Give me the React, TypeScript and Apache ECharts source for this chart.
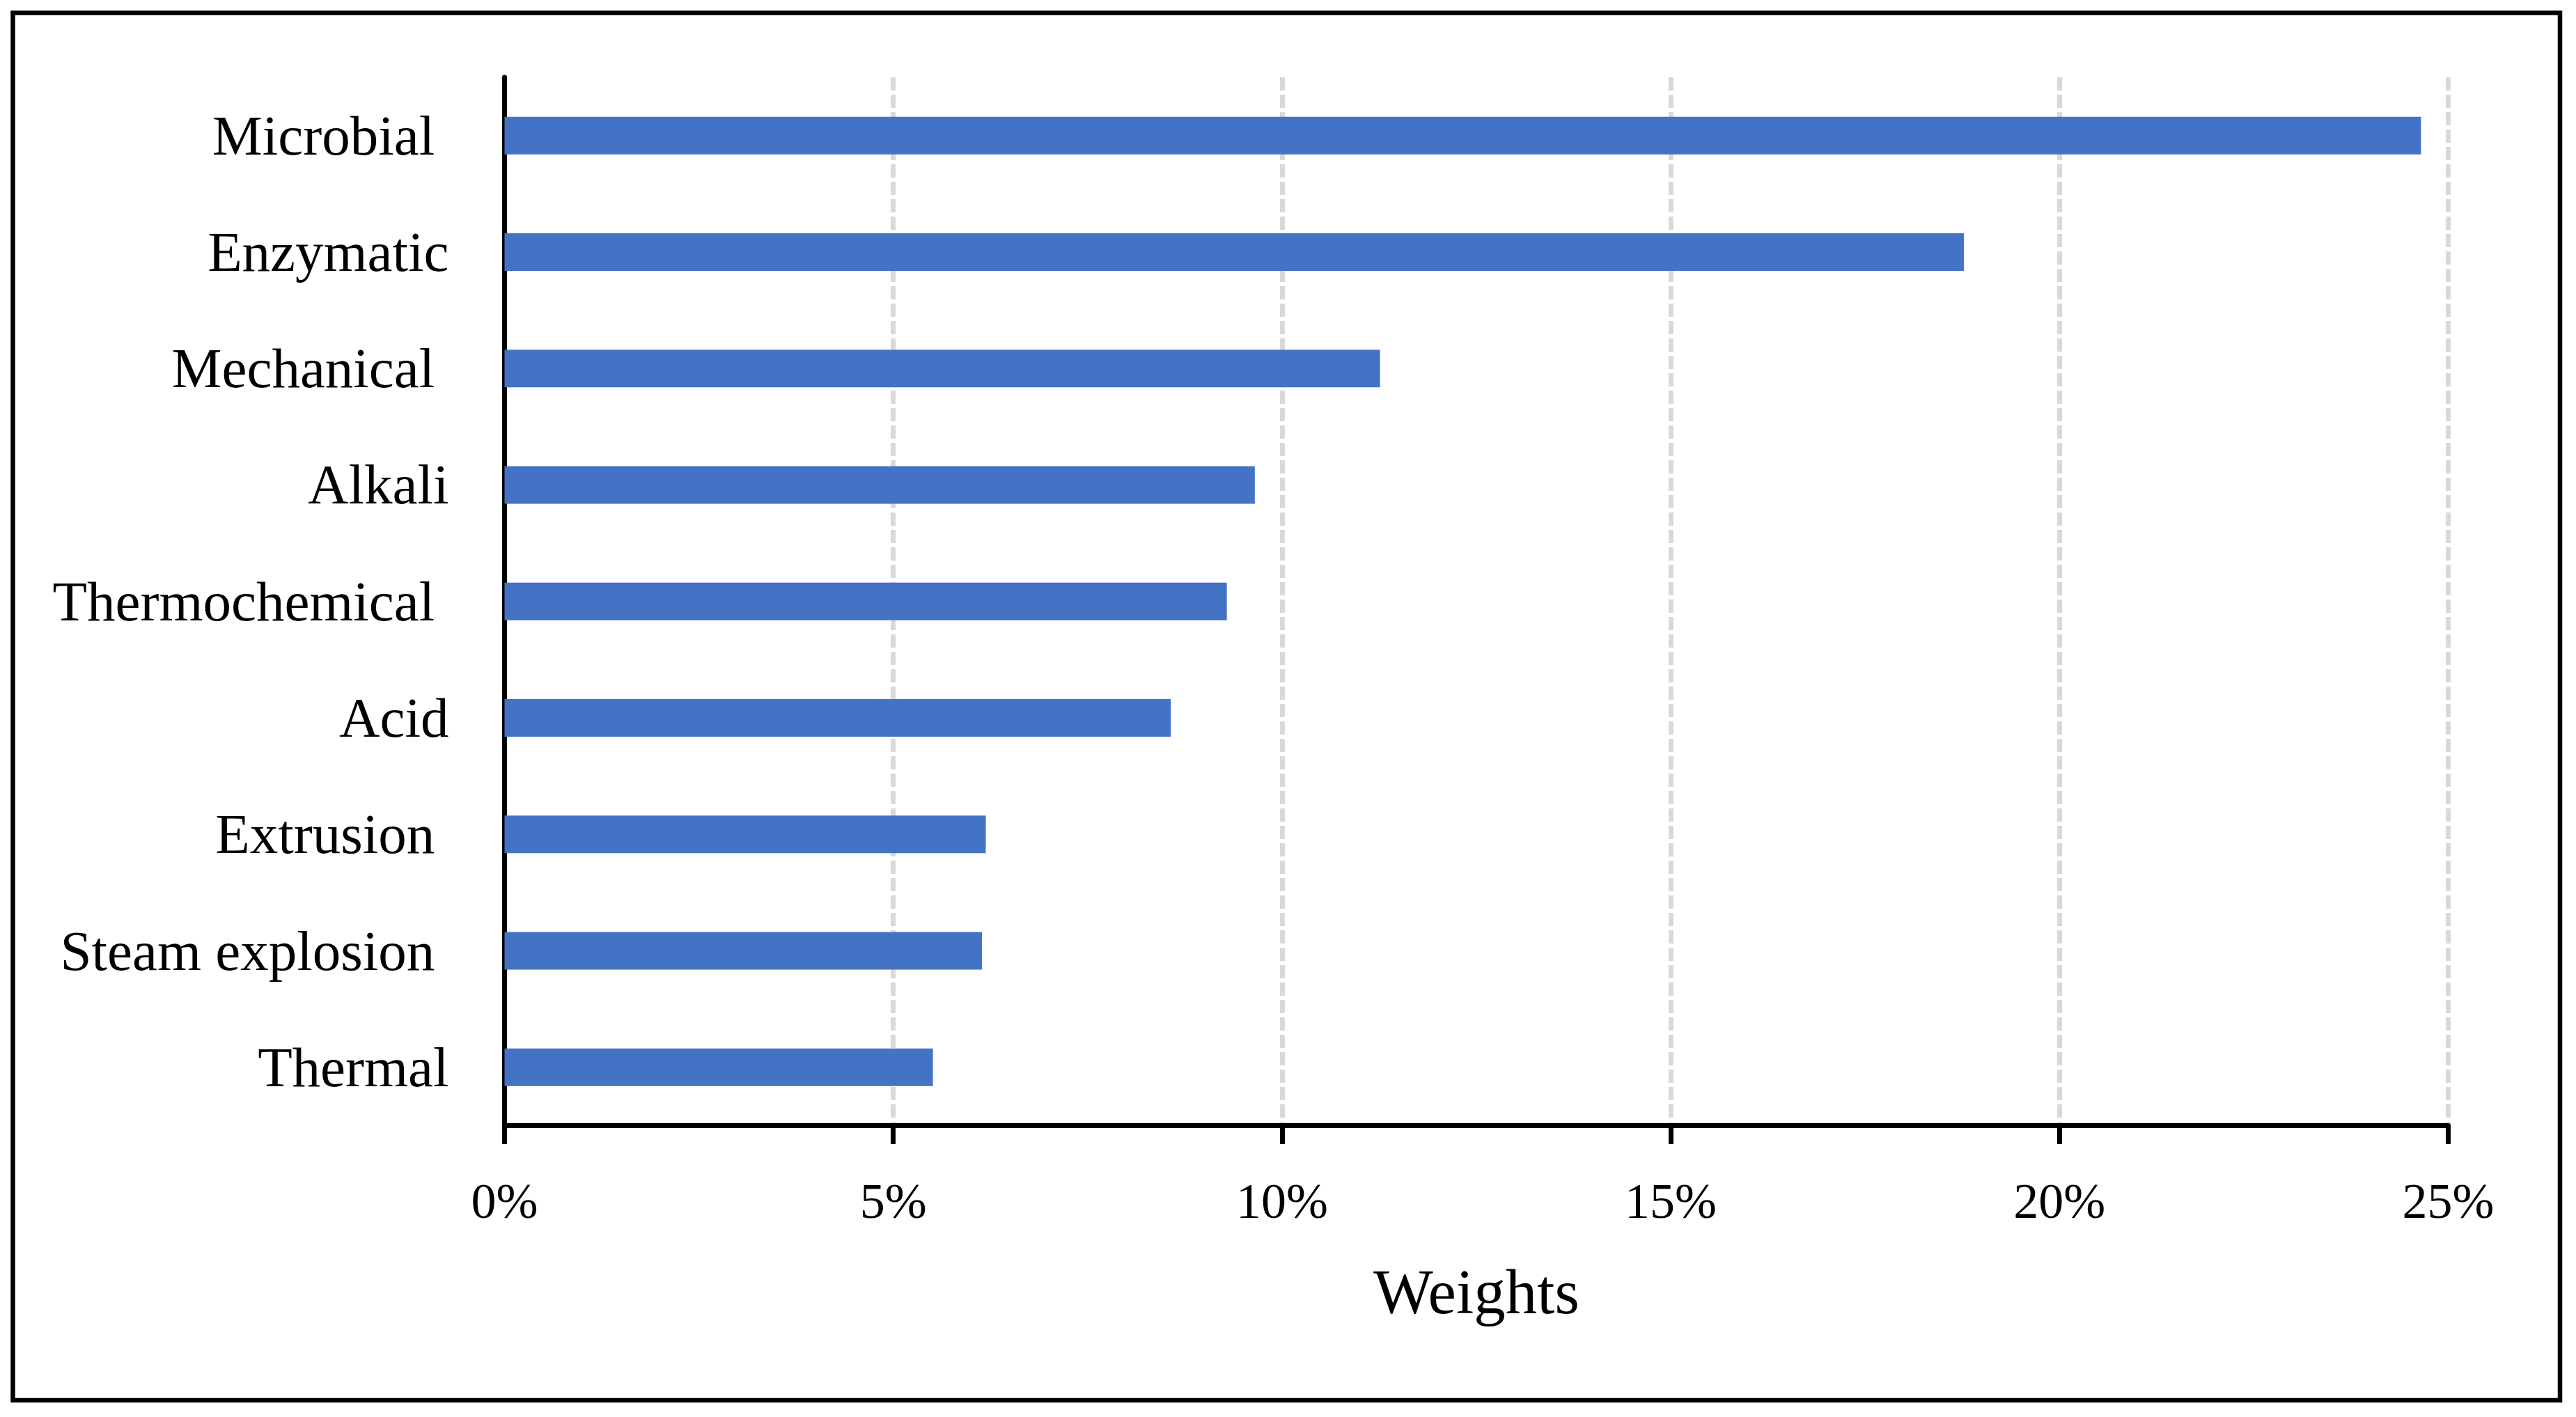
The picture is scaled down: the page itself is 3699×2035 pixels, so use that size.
import React, { useEffect, useRef } from "react";
import * as echarts from "echarts";

const categories = [
  "Microbial ",
  "Enzymatic",
  "Mechanical ",
  "Alkali",
  "Thermochemical ",
  "Acid",
  "Extrusion ",
  "Steam explosion ",
  "Thermal",
];
const weights = [24.65, 18.77, 11.26, 9.65, 9.29, 8.57, 6.19, 6.14, 5.51];
const xTicks = { min: 0, max: 25, interval: 5 };
const xAxisTitle = "Weights";

const FONT = "Liberation Serif";

export default function App() {
  const ref = useRef<HTMLDivElement>(null);
  useEffect(() => {
    if (!ref.current) return;
    const chart = echarts.init(ref.current, undefined, { renderer: "svg" });
    chart.setOption({
      animation: false,
      backgroundColor: "#ffffff",
      grid: { left: 724.5, top: 111, right: 183.5, bottom: 418.5, containLabel: false },
      graphic: [
        {
          type: "rect",
          shape: { x: 18.5, y: 18.5, width: 3657.5, height: 1992.5 },
          style: { fill: "none", stroke: "#000", lineWidth: 6.5 },
          z: 100,
        },
      ],
      xAxis: {
        type: "value",
        min: xTicks.min,
        max: xTicks.max,
        interval: xTicks.interval,
        name: xAxisTitle,
        nameLocation: "middle",
        nameGap: 193,
        nameTextStyle: { fontFamily: FONT, fontSize: 91, color: "#000" },
        axisLine: { show: true, lineStyle: { color: "#000", width: 7 } },
        axisTick: { show: true, length: 26.5, lineStyle: { color: "#000", width: 7 } },
        axisLabel: {
          formatter: "{value}%",
          fontFamily: FONT,
          fontSize: 72,
          color: "#000",
          margin: 72,
        },
        splitLine: {
          show: true,
          lineStyle: { color: "#D9D9D9", width: 7, type: [19, 6] },
        },
      },
      yAxis: {
        type: "category",
        data: categories,
        inverse: true,
        axisLine: { show: true, lineStyle: { color: "#000", width: 7 } },
        axisTick: { show: false },
        axisLabel: {
          fontFamily: FONT,
          fontSize: 81,
          color: "#000",
          margin: 80,
        },
        splitLine: { show: false },
      },
      series: [
        {
          type: "bar",
          data: weights,
          barWidth: 54,
          itemStyle: { color: "#4472C4" },
          z: 1,
        },
      ],
    });
    return () => chart.dispose();
  }, []);
  return (
    <div
      ref={ref}
      style={{ position: "fixed", left: 0, top: 0, width: 3699, height: 2035, background: "#fff" }}
    />
  );
}
